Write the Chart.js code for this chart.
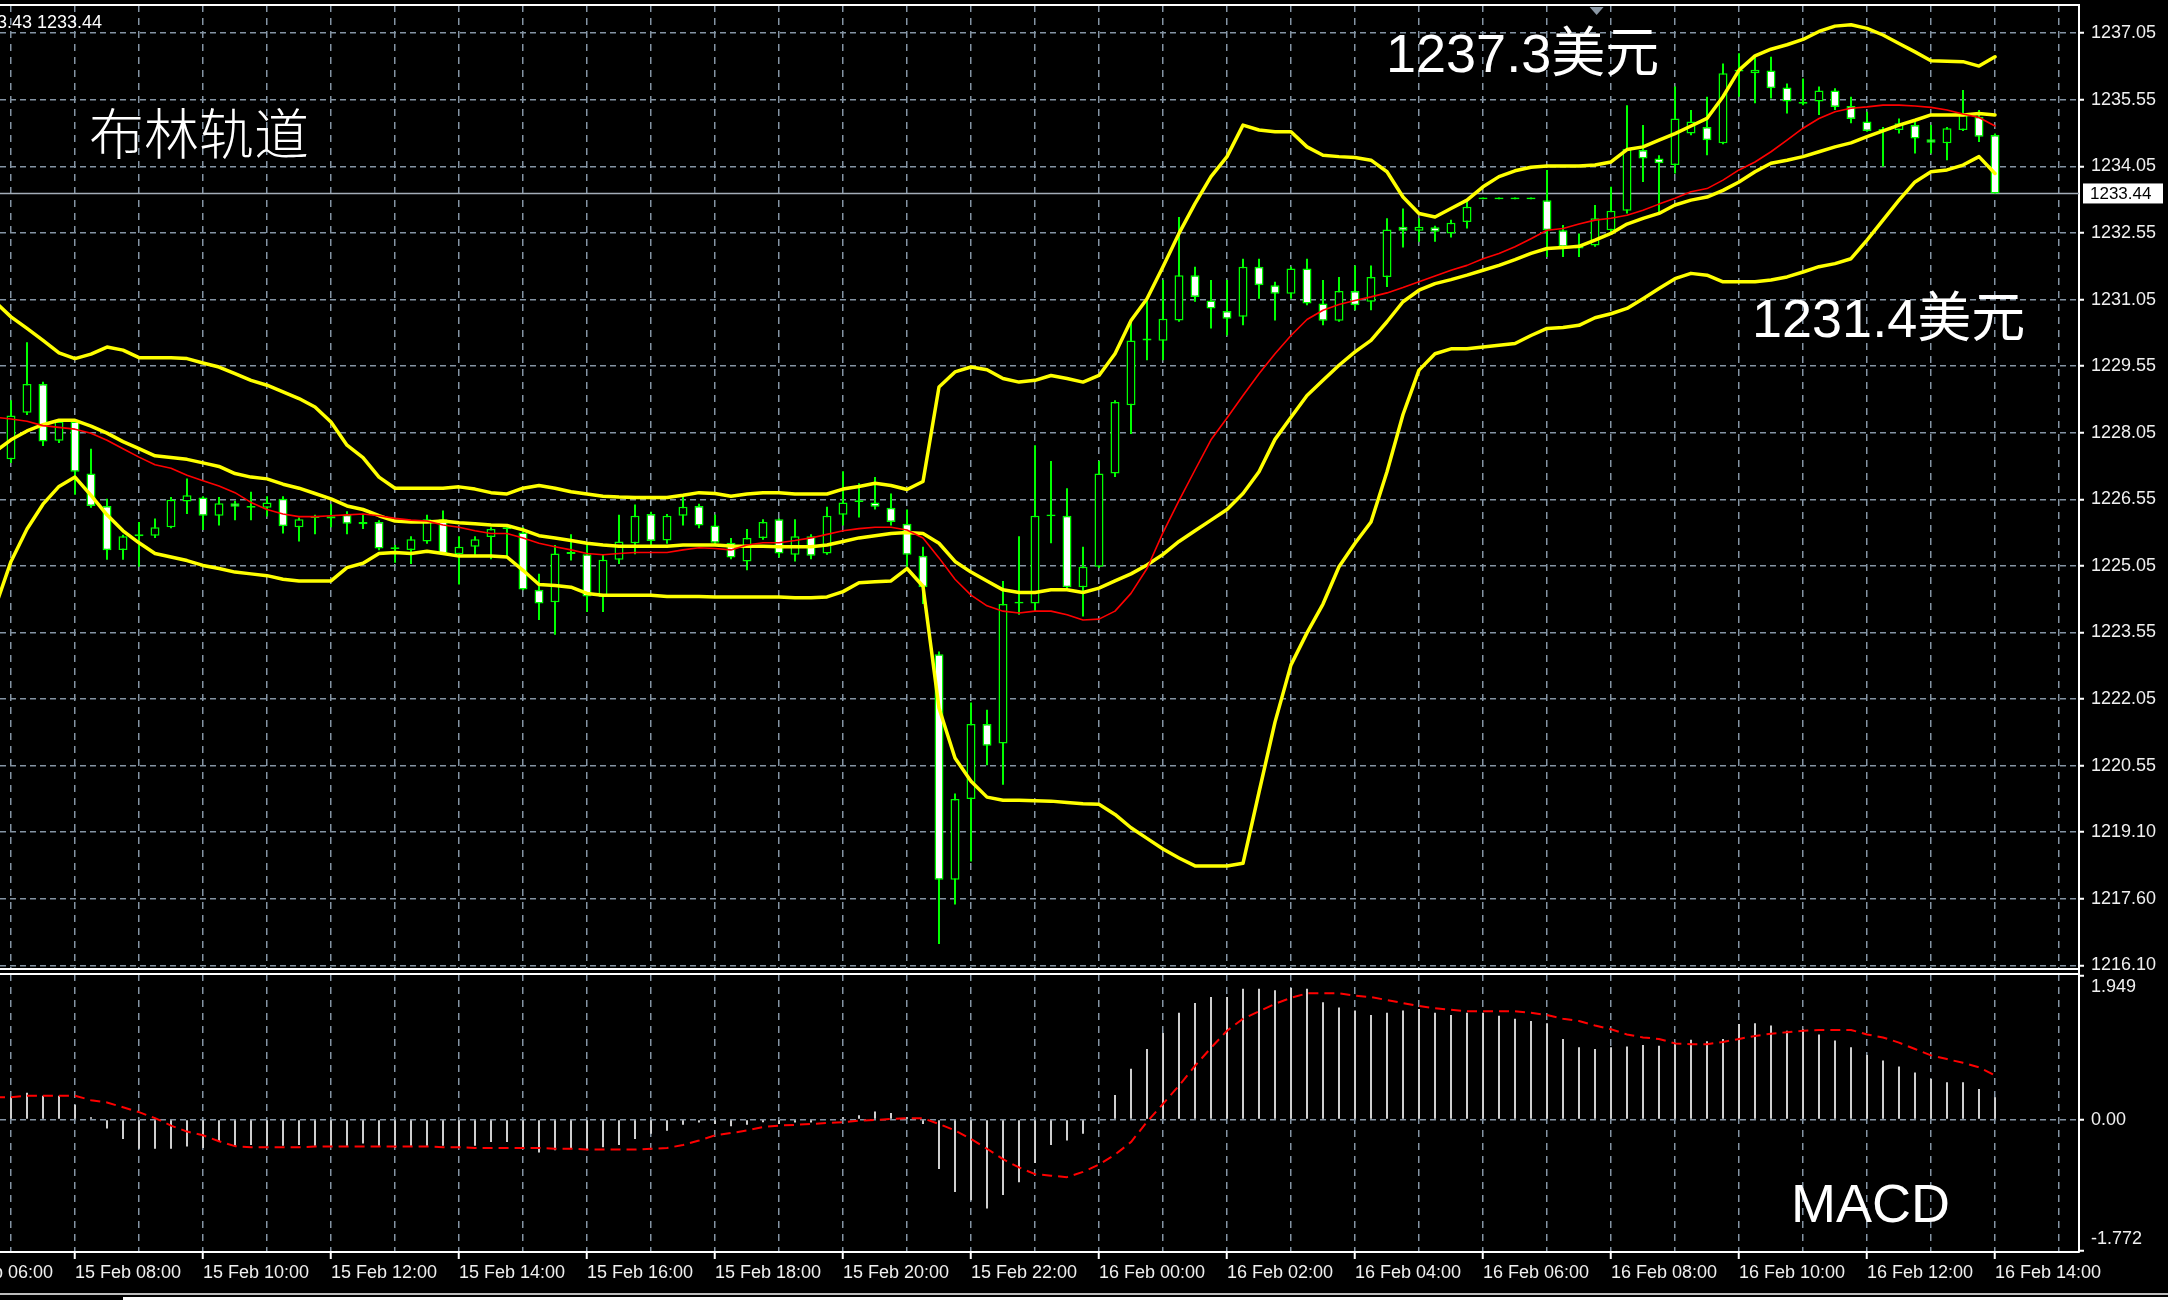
<!DOCTYPE html>
<html>
<head>
<meta charset="utf-8">
<title>布林轨道 / MACD</title>
<script src="https://cdn.jsdelivr.net/npm/chart.js@4.4.1/dist/chart.umd.min.js"></script>
<style>
html, body { margin:0; padding:0; background:#000; }
#stage { position:relative; width:2168px; height:1300px; background:#000; overflow:hidden; }
#stage canvas { position:absolute; left:0; }
#mainCanvas { top:0; width:2168px; height:972px; }
#macdCanvas { top:972px; width:2168px; height:328px; }
.note { position:absolute; color:#fff; white-space:nowrap; line-height:1; font-family:'Liberation Sans', Arial, 'Noto Sans CJK SC', sans-serif; }
</style>
</head>
<body>
<div id="stage">
  <canvas id="mainCanvas" width="2168" height="972"></canvas>
  <canvas id="macdCanvas" width="2168" height="328"></canvas>
  <div class="note" style="left:-3px;top:13px;font-size:18px;">3.43 1233.44</div>
  <div class="note" style="left:89px;top:103px;font-size:55px;font-family:'Noto Sans CJK SC',sans-serif;font-weight:300;">布林轨道</div>
  <div class="note" style="left:1386px;top:26px;font-size:54px;">1237.3美元</div>
  <div class="note" style="left:1752px;top:291px;font-size:54px;">1231.4美元</div>
  <div class="note" style="left:1791px;top:1176px;font-size:54px;">MACD</div>
</div>
<script>
// ---- M15 bars: first element = 15 Feb 06:45, second = 15 Feb 07:00, ... last = 16 Feb 14:00 ----
const openP = [null,
1227.45,1228.50,1229.15,1227.87,1228.30,1227.13,1226.40,1225.41,1225.72,1225.73,
1225.92,1226.50,1226.59,1226.18,1226.46,1226.36,1226.36,1226.56,1225.92,1226.13,
1226.12,1226.20,1225.99,1226.04,1225.43,1225.41,1225.60,1226.10,1225.31,1225.48,
1225.70,1225.88,1225.80,1224.51,1224.23,1225.32,1225.31,1224.35,1225.19,1225.56,
1226.22,1225.62,1226.18,1226.40,1225.96,1225.57,1225.15,1225.68,1226.10,1225.30,
1225.72,1225.33,1226.20,1226.49,1226.48,1226.36,1226.00,1225.28,1223.06,1217.98,
1219.80,1221.49,1221.05,1224.20,1224.20,1226.17,1226.18,1224.57,1225.03,1227.13,
1228.67,1230.13,1230.12,1230.58,1231.60,1231.03,1230.79,1230.66,1231.79,1231.37,
1231.18,1231.75,1230.96,1230.57,1231.24,1231.00,1231.56,1232.69,1232.60,1232.68,
1232.54,1232.80,1233.31,1233.31,1233.31,1233.31,1233.29,1232.61,1232.20,1232.27,
1232.61,1233.05,1234.42,1234.23,1234.08,1234.79,1234.94,1234.57,1236.19,1236.15,
1236.21,1235.83,1235.50,1235.51,1235.76,1235.41,1235.06,1234.89,1234.87,1234.98,
1234.66,1234.57,1234.87,1235.17,1234.76];

const highP = [null,
1228.78,1230.09,1229.20,1228.35,1228.35,1227.69,1226.56,1225.75,1226.04,1226.12,
1226.60,1227.02,1226.62,1226.60,1226.52,1226.72,1226.62,1226.62,1226.14,1226.20,
1226.44,1226.28,1226.22,1226.08,1225.52,1225.72,1226.20,1226.30,1225.72,1225.72,
1225.92,1225.92,1225.92,1224.87,1225.52,1225.76,1225.52,1225.31,1226.20,1226.43,
1226.27,1226.22,1226.60,1226.45,1226.20,1225.68,1225.88,1226.10,1226.12,1226.10,
1225.76,1226.38,1227.18,1226.91,1227.05,1226.68,1226.32,1225.48,1223.12,1219.92,
1221.97,1221.81,1224.71,1225.72,1227.77,1227.41,1226.80,1225.48,1227.41,1228.78,
1230.58,1231.07,1231.49,1232.91,1231.79,1231.49,1231.49,1231.97,1231.97,1231.45,
1231.79,1231.97,1231.49,1231.56,1231.82,1231.82,1232.88,1233.10,1232.88,1232.71,
1232.85,1233.29,1233.35,1233.35,1233.35,1233.35,1233.97,1232.73,1232.54,1233.18,
1233.59,1235.43,1234.98,1234.30,1235.85,1235.32,1235.62,1236.37,1236.60,1236.56,
1236.52,1235.92,1236.03,1235.85,1235.81,1235.62,1235.28,1234.94,1235.13,1235.06,
1234.98,1234.94,1235.77,1235.32,1234.79];

const lowP = [null,
1227.37,1228.45,1227.75,1227.82,1226.65,1226.36,1225.19,1225.19,1225.03,1225.68,
1225.90,1226.22,1225.86,1225.96,1226.08,1226.08,1226.16,1225.78,1225.60,1225.76,
1225.92,1225.76,1225.88,1225.40,1225.12,1225.09,1225.55,1225.30,1224.63,1225.30,
1225.20,1225.24,1224.50,1223.83,1223.50,1225.17,1224.01,1224.01,1225.09,1225.31,
1225.48,1225.55,1225.96,1225.90,1225.52,1225.20,1224.95,1225.64,1225.24,1225.15,
1225.20,1225.30,1225.96,1226.14,1226.32,1225.96,1225.03,1224.19,1216.53,1217.42,
1218.39,1220.56,1220.12,1223.95,1224.03,1225.56,1224.55,1223.91,1225.00,1227.05,
1228.02,1229.68,1229.68,1230.55,1231.00,1230.40,1230.24,1230.47,1231.07,1230.58,
1231.07,1230.92,1230.47,1230.55,1230.81,1230.81,1231.33,1232.22,1232.35,1232.35,
1232.45,1232.65,1233.31,1233.31,1233.31,1233.31,1232.01,1232.01,1232.01,1232.24,
1232.58,1232.99,1233.70,1232.99,1233.89,1234.75,1234.30,1234.55,1235.62,1235.47,
1235.58,1235.24,1235.43,1235.21,1235.32,1235.02,1234.83,1234.04,1234.79,1234.34,
1234.34,1234.19,1234.85,1234.60,1233.44];

const closeP = [null,
1228.44,1229.15,1227.85,1228.30,1227.17,1226.40,1225.40,1225.72,1225.76,1225.92,
1226.54,1226.64,1226.18,1226.46,1226.38,1226.40,1226.48,1225.94,1226.10,1226.17,
1226.17,1226.00,1226.04,1225.44,1225.47,1225.65,1226.10,1225.33,1225.48,1225.65,
1225.88,1225.92,1224.52,1224.20,1225.33,1225.36,1224.36,1225.19,1225.60,1226.18,
1225.61,1226.18,1226.38,1225.96,1225.57,1225.24,1225.68,1226.04,1225.33,1225.72,
1225.28,1226.18,1226.48,1226.53,1226.38,1226.04,1225.30,1224.57,1217.98,1219.80,
1221.49,1221.00,1224.19,1224.24,1226.18,1226.21,1224.57,1225.03,1227.13,1228.74,
1230.13,1230.17,1230.62,1231.60,1231.11,1230.85,1230.62,1231.79,1231.37,1231.18,
1231.75,1230.96,1230.57,1231.24,1230.92,1231.56,1232.63,1232.60,1232.69,1232.58,
1232.78,1233.14,1233.35,1233.35,1233.35,1233.35,1232.61,1232.24,1232.27,1232.88,
1233.05,1234.45,1234.23,1234.12,1235.13,1235.06,1234.64,1236.15,1236.23,1236.23,
1235.81,1235.51,1235.46,1235.76,1235.39,1235.12,1234.85,1234.85,1235.02,1234.68,
1234.58,1234.91,1235.21,1234.72,1233.44];

const bbUpper = [1231.00,
1230.66,1230.40,1230.13,1229.85,1229.72,1229.82,1229.98,1229.91,1229.74,1229.74,
1229.74,1229.72,1229.62,1229.53,1229.38,1229.23,1229.12,1228.97,1228.82,1228.63,
1228.29,1227.77,1227.49,1227.05,1226.80,1226.80,1226.80,1226.80,1226.83,1226.78,
1226.70,1226.67,1226.80,1226.86,1226.80,1226.72,1226.67,1226.62,1226.60,1226.59,
1226.59,1226.59,1226.64,1226.70,1226.68,1226.62,1226.67,1226.70,1226.70,1226.67,
1226.67,1226.67,1226.78,1226.84,1226.91,1226.86,1226.77,1226.95,1229.08,1229.42,
1229.53,1229.47,1229.27,1229.19,1229.23,1229.34,1229.27,1229.19,1229.34,1229.83,
1230.58,1231.07,1231.79,1232.54,1233.21,1233.82,1234.27,1234.98,1234.87,1234.83,
1234.83,1234.49,1234.30,1234.27,1234.25,1234.19,1233.93,1233.36,1232.99,1232.91,
1233.10,1233.29,1233.59,1233.82,1233.95,1234.03,1234.06,1234.06,1234.06,1234.08,
1234.15,1234.43,1234.49,1234.64,1234.79,1234.96,1235.13,1235.62,1236.22,1236.54,
1236.69,1236.79,1236.91,1237.09,1237.21,1237.24,1237.16,1237.01,1236.82,1236.63,
1236.43,1236.42,1236.41,1236.31,1236.52];

const bbMiddle = [1227.62,
1227.89,1228.09,1228.23,1228.33,1228.33,1228.20,1228.04,1227.85,1227.69,1227.53,
1227.49,1227.45,1227.37,1227.29,1227.13,1227.05,1227.01,1226.89,1226.80,1226.68,
1226.56,1226.40,1226.32,1226.18,1226.06,1226.04,1226.04,1226.06,1226.02,1226.00,
1225.97,1225.96,1225.86,1225.73,1225.68,1225.62,1225.56,1225.52,1225.49,1225.49,
1225.49,1225.49,1225.52,1225.52,1225.52,1225.50,1225.49,1225.49,1225.48,1225.48,
1225.48,1225.52,1225.60,1225.68,1225.73,1225.78,1225.80,1225.78,1225.56,1225.15,
1224.91,1224.71,1224.51,1224.45,1224.45,1224.51,1224.51,1224.45,1224.55,1224.71,
1224.87,1225.07,1225.31,1225.60,1225.84,1226.08,1226.32,1226.68,1227.17,1227.90,
1228.40,1228.89,1229.23,1229.57,1229.87,1230.13,1230.55,1231.00,1231.26,1231.41,
1231.50,1231.60,1231.71,1231.82,1231.95,1232.09,1232.20,1232.22,1232.25,1232.39,
1232.54,1232.75,1232.88,1232.99,1233.18,1233.29,1233.36,1233.51,1233.70,1233.93,
1234.12,1234.19,1234.27,1234.38,1234.49,1234.58,1234.72,1234.85,1234.98,1235.09,
1235.21,1235.21,1235.21,1235.24,1235.21];

const bbLower = [1224.10,
1225.15,1225.88,1226.44,1226.84,1227.05,1226.64,1226.20,1225.84,1225.57,1225.33,
1225.25,1225.17,1225.06,1224.99,1224.91,1224.87,1224.83,1224.75,1224.71,1224.71,
1224.71,1225.01,1225.11,1225.33,1225.35,1225.33,1225.38,1225.33,1225.27,1225.27,
1225.27,1225.25,1224.95,1224.63,1224.61,1224.57,1224.43,1224.39,1224.39,1224.39,
1224.39,1224.36,1224.36,1224.36,1224.35,1224.35,1224.35,1224.35,1224.35,1224.33,
1224.33,1224.35,1224.47,1224.67,1224.69,1224.71,1224.99,1224.59,1221.85,1220.72,
1220.20,1219.84,1219.77,1219.77,1219.76,1219.75,1219.72,1219.69,1219.68,1219.45,
1219.15,1218.91,1218.67,1218.47,1218.29,1218.29,1218.29,1218.35,1219.95,1221.53,
1222.82,1223.54,1224.19,1225.03,1225.56,1226.04,1227.17,1228.46,1229.46,1229.83,
1229.94,1229.94,1229.98,1230.02,1230.06,1230.24,1230.40,1230.42,1230.47,1230.64,
1230.73,1230.85,1231.07,1231.30,1231.52,1231.64,1231.60,1231.45,1231.45,1231.45,
1231.49,1231.56,1231.67,1231.79,1231.86,1231.97,1232.39,1232.84,1233.29,1233.70,
1233.93,1233.97,1234.08,1234.27,1233.89];

const maRed = [1228.40,
1228.36,1228.31,1228.21,1228.17,1228.13,1228.04,1227.88,1227.69,1227.50,1227.33,
1227.25,1227.09,1226.97,1226.85,1226.70,1226.48,1226.32,1226.22,1226.16,1226.16,
1226.18,1226.20,1226.22,1226.18,1226.12,1226.08,1226.06,1225.97,1225.92,1225.84,
1225.78,1225.78,1225.68,1225.56,1225.48,1225.41,1225.33,1225.30,1225.33,1225.35,
1225.35,1225.35,1225.41,1225.46,1225.44,1225.41,1225.52,1225.57,1225.57,1225.62,
1225.68,1225.76,1225.84,1225.89,1225.92,1225.92,1225.86,1225.68,1225.23,1224.75,
1224.39,1224.15,1224.03,1223.99,1224.03,1224.03,1223.95,1223.83,1223.85,1224.03,
1224.43,1224.99,1225.80,1226.52,1227.21,1227.89,1228.38,1228.89,1229.38,1229.83,
1230.24,1230.60,1230.81,1230.94,1231.03,1231.11,1231.20,1231.32,1231.45,1231.58,
1231.71,1231.82,1231.97,1232.09,1232.24,1232.42,1232.61,1232.65,1232.75,1232.84,
1232.88,1232.95,1233.06,1233.20,1233.33,1233.48,1233.55,1233.74,1233.97,1234.15,
1234.38,1234.64,1234.91,1235.13,1235.28,1235.36,1235.39,1235.43,1235.43,1235.41,
1235.38,1235.32,1235.23,1235.15,1234.96];

const macdHist = [0.30,
0.30,0.36,0.32,0.32,0.20,0.03,-0.12,-0.26,-0.39,-0.39,
-0.39,-0.36,-0.38,-0.30,-0.35,-0.34,-0.35,-0.35,-0.34,-0.35,
-0.35,-0.35,-0.32,-0.35,-0.38,-0.35,-0.35,-0.35,-0.38,-0.35,
-0.30,-0.30,-0.39,-0.44,-0.41,-0.39,-0.41,-0.37,-0.34,-0.26,
-0.19,-0.15,-0.07,-0.04,-0.06,-0.09,-0.07,-0.035,-0.06,-0.04,
-0.04,-0.01,0.03,0.06,0.11,0.09,0.03,-0.06,-0.66,-0.97,
-1.08,-1.19,-1.01,-0.84,-0.58,-0.34,-0.28,-0.19,0.0,0.33,
0.68,0.945,1.16,1.43,1.56,1.64,1.64,1.75,1.75,1.73,
1.76,1.75,1.57,1.50,1.46,1.40,1.43,1.46,1.48,1.43,
1.40,1.43,1.43,1.39,1.35,1.32,1.29,1.08,0.97,0.945,
0.97,0.98,1.00,0.99,1.03,1.07,1.05,1.08,1.28,1.29,
1.26,1.19,1.21,1.14,1.06,0.97,0.865,0.79,0.71,0.63,
0.545,0.50,0.50,0.41,0.30];

const macdSignal = [0.30,
0.30,0.32,0.32,0.32,0.32,0.26,0.23,0.165,0.10,0.02,
-0.08,-0.16,-0.21,-0.29,-0.355,-0.37,-0.37,-0.37,-0.37,-0.36,
-0.36,-0.36,-0.36,-0.36,-0.36,-0.36,-0.36,-0.37,-0.37,-0.38,
-0.38,-0.38,-0.38,-0.38,-0.39,-0.39,-0.40,-0.40,-0.40,-0.40,
-0.39,-0.38,-0.34,-0.28,-0.21,-0.18,-0.145,-0.10,-0.08,-0.07,
-0.058,-0.045,-0.036,-0.015,-0.005,0.01,0.018,0.018,-0.058,-0.145,
-0.26,-0.39,-0.53,-0.64,-0.73,-0.75,-0.77,-0.70,-0.60,-0.47,
-0.30,-0.03,0.21,0.455,0.72,0.96,1.19,1.35,1.45,1.55,
1.63,1.69,1.69,1.69,1.66,1.64,1.60,1.56,1.52,1.49,
1.47,1.45,1.45,1.45,1.45,1.43,1.40,1.35,1.32,1.26,
1.21,1.14,1.10,1.08,1.02,1.01,1.01,1.04,1.08,1.12,
1.15,1.17,1.19,1.20,1.20,1.20,1.14,1.10,1.03,0.945,
0.86,0.81,0.76,0.70,0.59];

// time axis: bar numbers (0 = 15 Feb 07:00) of the labelled ticks, and their texts
const timeTickBars = [-4, 4, 12, 20, 28, 36, 44, 52, 60, 68, 76, 84, 92, 100, 108, 116, 124];
const timeTickLabels = ['15 Feb 06:00','15 Feb 08:00','15 Feb 10:00','15 Feb 12:00','15 Feb 14:00',
  '15 Feb 16:00','15 Feb 18:00','15 Feb 20:00','15 Feb 22:00','16 Feb 00:00','16 Feb 02:00',
  '16 Feb 04:00','16 Feb 06:00','16 Feb 08:00','16 Feb 10:00','16 Feb 12:00','16 Feb 14:00'];

// price axis
const priceTicks = [1237.05,1235.55,1234.05,1232.55,1231.05,1229.55,1228.05,1226.55,1225.05,1223.55,1222.05,1220.55,1219.05,1217.55,1216.05];
const priceTickLabels = ['1237.05','1235.55','1234.05','1232.55','1231.05','1229.55','1228.05','1226.55','1225.05','1223.55','1222.05','1220.55','1219.10','1217.60','1216.10'];
const bidPrice = 1233.44;

// MACD axis
const macdTickLabels = ['', '1.949', '0.00', '-1.772', ''];
const MACD_MAX = 1.949, MACD_MIN = -1.772;

// ---------------- chart setup ----------------
const FIRST_BAR = -1;
const xOf = k => k + FIRST_BAR;
const GRID = '#8494a4';
const FONT = "'Liberation Sans', Arial, sans-serif";
Chart.defaults.font.family = FONT;
Chart.defaults.font.size = 18;
Chart.defaults.color = '#f0f0f0';

const AXIS_W = 89;
const X_MIN = -11 / 16;
const X_MAX = X_MIN + (2168 - AXIS_W) / 16;
const Y_MIN = 1215.968, Y_MAX = 1237.686;

const series = arr => arr.map((v, k) => ({ x: xOf(k), y: v }));
const wicks = [], bodies = [];
for (let k = 0; k < openP.length; k++) {
  if (openP[k] == null) continue;
  wicks.push({ x: xOf(k), y: [lowP[k], highP[k]] });
  bodies.push({ x: xOf(k), y: [openP[k], closeP[k]], bull: closeP[k] >= openP[k] });
}

function hourTicks(s) { const t = []; for (let v = -4; v <= 128; v += 4) t.push({ value: v }); s.ticks = t; }
function timeLabel(v) { const i = timeTickBars.indexOf(v); return i >= 0 ? timeTickLabels[i] : ''; }
// keep the plot area fixed: no extra padding for overhanging tick labels
function noPad(s) { s.paddingLeft = 0; s.paddingRight = 0; s.paddingTop = 0; s.paddingBottom = 0; }

const lineDs = (label, data, color, width, order) => ({
  type: 'line', label, data, borderColor: color, borderWidth: width, pointRadius: 0,
  borderJoinStyle: 'round', borderCapStyle: 'round', tension: 0, order
});

const mainDecor = {
  id: 'mainDecor',
  beforeDatasetsDraw(chart) {
    const { ctx, chartArea: a, scales: { y } } = chart;
    const py = Math.round(y.getPixelForValue(bidPrice)) + 0.5;
    ctx.save();
    ctx.strokeStyle = '#a3adb8'; ctx.lineWidth = 1.5;
    ctx.beginPath(); ctx.moveTo(a.left, py); ctx.lineTo(a.right, py); ctx.stroke();
    ctx.restore();
  },
  afterDraw(chart) {
    const { ctx, chartArea: a, scales: { x, y } } = chart;
    ctx.save();
    ctx.strokeStyle = '#ffffff'; ctx.lineWidth = 2;
    ctx.beginPath(); ctx.moveTo(0, a.top); ctx.lineTo(a.right, a.top); ctx.stroke();
    ctx.beginPath(); ctx.moveTo(a.right, a.bottom); ctx.lineTo(a.right, chart.height); ctx.stroke();
    // chart-shift marker
    const sx = x.getPixelForValue(99.1);
    ctx.fillStyle = '#8a97a4';
    ctx.beginPath(); ctx.moveTo(sx - 7, a.top + 2); ctx.lineTo(sx + 7, a.top + 2); ctx.lineTo(sx, a.top + 10); ctx.closePath(); ctx.fill();
    // current price box
    const py = y.getPixelForValue(bidPrice);
    ctx.fillStyle = '#ffffff';
    ctx.fillRect(a.right + 4, py - 10, 80, 20);
    ctx.fillStyle = '#000000';
    ctx.font = "17px " + FONT;
    ctx.textBaseline = 'middle'; ctx.textAlign = 'left';
    ctx.fillText(bidPrice.toFixed(2), a.right + 11, py + 1);
    ctx.restore();
  }
};

const macdDecor = {
  id: 'macdDecor',
  afterDraw(chart) {
    const { ctx, chartArea: a } = chart;
    ctx.save();
    ctx.strokeStyle = '#ffffff'; ctx.lineWidth = 2;
    ctx.beginPath(); ctx.moveTo(0, a.top); ctx.lineTo(a.right, a.top); ctx.stroke();
    ctx.beginPath(); ctx.moveTo(a.right, 0); ctx.lineTo(a.right, a.top); ctx.stroke();
    const h = chart.height, w = chart.width;
    ctx.strokeStyle = '#bdbdbd'; ctx.lineWidth = 2;
    ctx.beginPath(); ctx.moveTo(0, h - 6); ctx.lineTo(w, h - 6); ctx.stroke();
    ctx.strokeStyle = '#ffffff'; ctx.lineWidth = 3;
    ctx.beginPath(); ctx.moveTo(123, h - 1.5); ctx.lineTo(w, h - 1.5); ctx.stroke();
    ctx.restore();
  }
};

const baseX = {
  type: 'linear', min: X_MIN, max: X_MAX, offset: false,
  afterBuildTicks: hourTicks
};

new Chart(document.getElementById('mainCanvas'), {
  type: 'bar',
  data: {
    datasets: [
      lineDs('MA', series(maRed), '#ff0000', 1.6, 0),
      lineDs('BB upper', series(bbUpper), '#ffff00', 3.5, 1),
      lineDs('BB middle', series(bbMiddle), '#ffff00', 3.5, 1),
      lineDs('BB lower', series(bbLower), '#ffff00', 3.5, 1),
      { type: 'bar', label: 'body', data: bodies, grouped: false, maxBarThickness: 9,
        backgroundColor: c => (c.raw && c.raw.bull) ? '#000000' : '#ffffff',
        borderColor: '#00ff00', borderWidth: 1.5, borderSkipped: false, order: 2 },
      { type: 'bar', label: 'wick', data: wicks, grouped: false, maxBarThickness: 2,
        backgroundColor: '#00ff00', borderWidth: 0, order: 3 }
    ]
  },
  options: {
    responsive: false, animation: false, devicePixelRatio: 1, events: [],
    layout: { autoPadding: false, padding: { top: 5, bottom: 3, left: 0, right: 0 } },
    plugins: { legend: { display: false }, tooltip: { enabled: false } },
    scales: {
      x: Object.assign({}, baseX, {
        afterFit: s => { s.height = 0; noPad(s); },
        grid: { color: GRID, lineWidth: 1.5, drawTicks: false, offset: false },
        border: { display: true, color: '#ffffff', width: 2, dash: [7, 6] },
        ticks: { display: false }
      }),
      y: {
        type: 'linear', position: 'right', min: Y_MIN, max: Y_MAX, beginAtZero: false,
        afterBuildTicks: s => { s.ticks = priceTicks.map(v => ({ value: v })); },
        afterFit: s => { s.width = AXIS_W; noPad(s); },
        grid: { color: GRID, lineWidth: 1.5, drawTicks: true, tickLength: 5, tickColor: '#ffffff', tickWidth: 2, tickBorderDash: [] },
        border: { display: true, color: '#ffffff', width: 2, dash: [6, 4] },
        ticks: { autoSkip: false, padding: 7, color: '#f0f0f0', callback: (v, i) => priceTickLabels[i] }
      }
    }
  },
  plugins: [mainDecor]
});

new Chart(document.getElementById('macdCanvas'), {
  type: 'bar',
  data: {
    datasets: [
      Object.assign(lineDs('Signal', series(macdSignal), '#ff0000', 2, 0), { borderDash: [10, 6], borderCapStyle: 'butt' }),
      { type: 'bar', label: 'MACD', data: series(macdHist), grouped: false, maxBarThickness: 2,
        backgroundColor: '#cfcfcf', borderWidth: 0, order: 1 }
    ]
  },
  options: {
    responsive: false, animation: false, devicePixelRatio: 1, events: [],
    layout: { autoPadding: false, padding: { top: 2, bottom: 0, left: 0, right: 0 } },
    plugins: { legend: { display: false }, tooltip: { enabled: false } },
    scales: {
      x: Object.assign({}, baseX, {
        afterFit: s => { s.height = 48; noPad(s); },
        grid: { color: GRID, lineWidth: 1.5, drawTicks: true, tickLength: 7, tickWidth: 2, offset: false,
                tickColor: c => (c.tick && timeTickBars.indexOf(c.tick.value) >= 0) ? '#ffffff' : 'rgba(0,0,0,0)',
                tickBorderDash: [] },
        border: { display: true, color: '#ffffff', width: 2, dash: [7, 6] },
        ticks: { autoSkip: false, maxRotation: 0, minRotation: 0, align: 'start', padding: 3, color: '#f0f0f0',
                 callback: v => timeLabel(v) }
      }),
      y: {
        type: 'linear', position: 'right', min: MACD_MIN, max: MACD_MAX, beginAtZero: false,
        // marks at the panel top, zero and bottom; the top/bottom texts sit just inside the panel
        afterBuildTicks: s => { s.ticks = [{ value: MACD_MAX - 0.02 }, { value: MACD_MAX - 0.18 }, { value: 0 },
                                           { value: MACD_MIN + 0.17 }, { value: MACD_MIN + 0.02 }]; },
        afterFit: s => { s.width = AXIS_W; noPad(s); },
        grid: { color: c => (c.tick && c.tick.value === 0) ? GRID : 'rgba(0,0,0,0)', lineWidth: 1.5,
                drawTicks: true, tickLength: 5, tickWidth: 2, tickBorderDash: [],
                tickColor: c => (c.index === 1 || c.index === 3) ? 'rgba(0,0,0,0)' : '#ffffff' },
        border: { display: true, color: '#ffffff', width: 2, dash: [6, 4] },
        ticks: { autoSkip: false, padding: 7, color: '#f0f0f0', callback: (v, i) => macdTickLabels[i] }
      }
    }
  },
  plugins: [macdDecor]
});
</script>
</body>
</html>
